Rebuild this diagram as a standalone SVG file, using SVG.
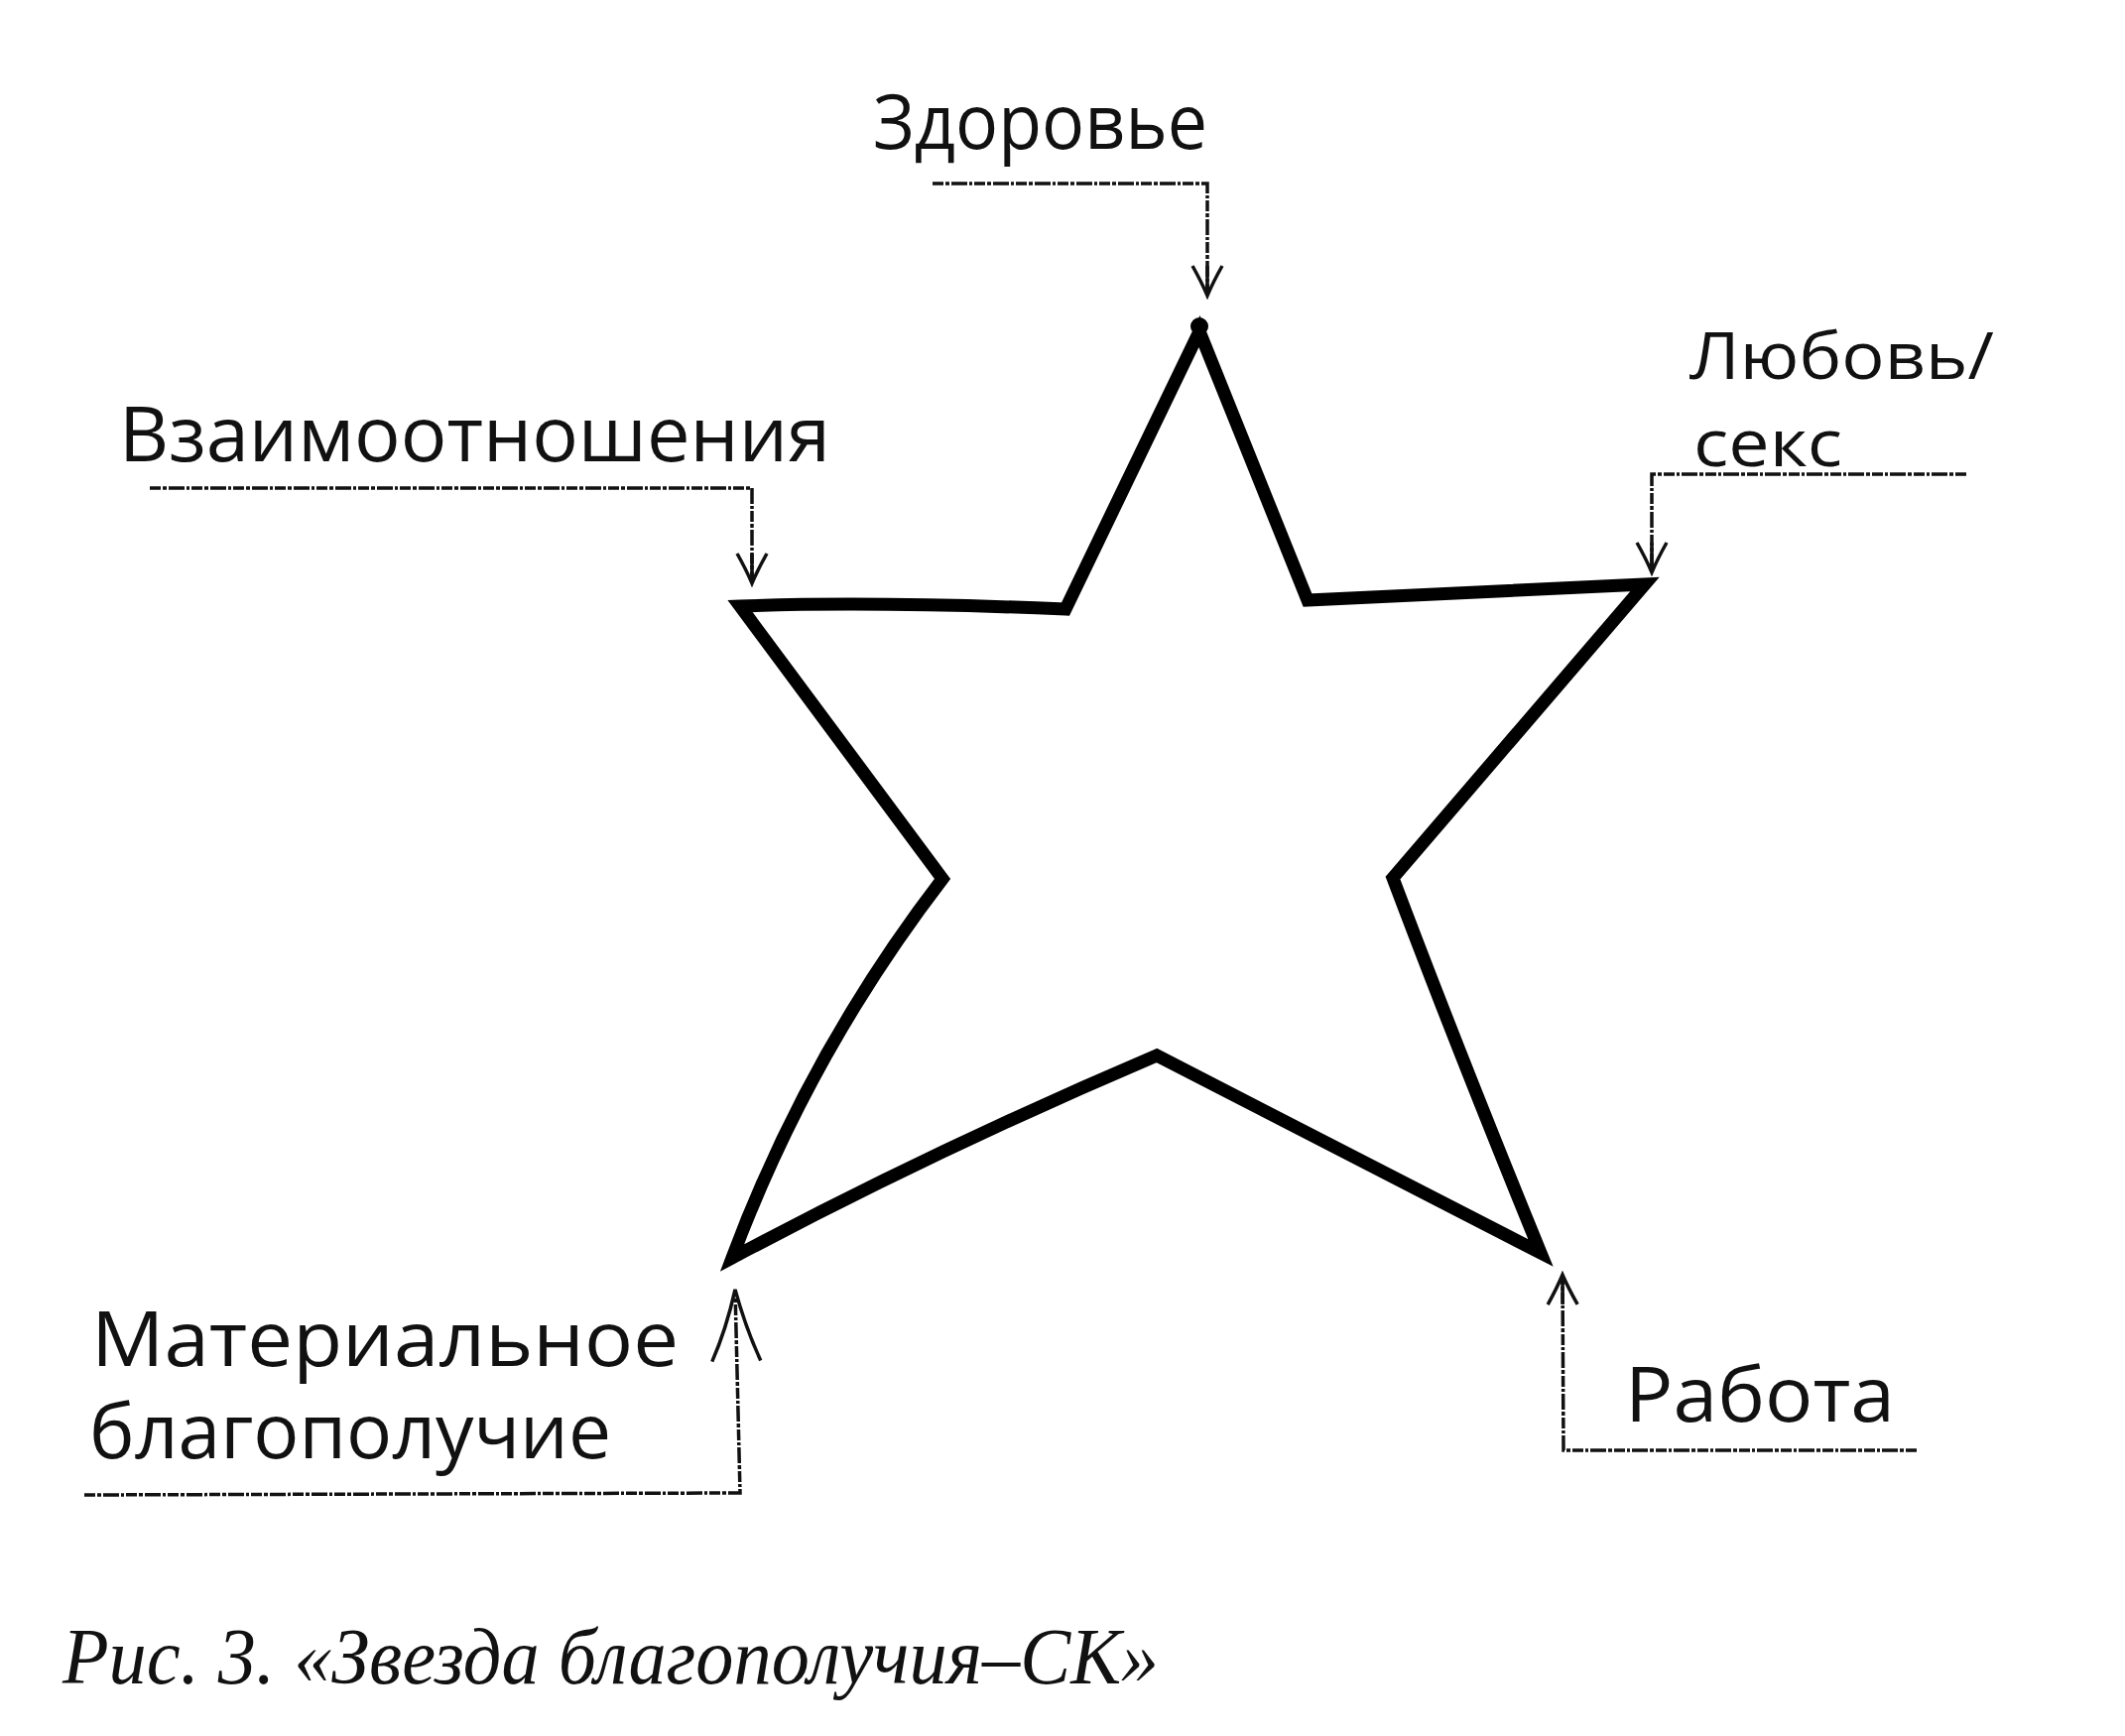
<svg xmlns="http://www.w3.org/2000/svg" width="2142" height="1750" viewBox="0 0 2142 1750">
<style>
.lbl{font-family:"Open Sans","Noto Sans","DejaVu Sans",sans-serif;font-size:76px;fill:#111}
.sm{font-size:65px}
.cap{font-family:"Liberation Serif","DejaVu Serif",serif;font-style:italic;font-size:80px;fill:#111}
.star{fill:none;stroke:#000;stroke-width:13;stroke-linejoin:miter;stroke-miterlimit:4}
.conn{fill:none;stroke:#111;stroke-width:3.5;stroke-dasharray:11 2 4 2 16 2 3 2}
</style>
<defs>
<marker id="arr" markerUnits="userSpaceOnUse" viewBox="-40 -20 44 40" refX="0" refY="0" markerWidth="44" markerHeight="40" orient="auto">
<path d="M-30,-15 Q-14,-6 0,0 Q-14,6 -30,15 M-30,0 L0,0" fill="none" stroke="#111" stroke-width="3.5"/>
</marker>
<marker id="arrL" markerUnits="userSpaceOnUse" viewBox="-80 -30 84 60" refX="0" refY="0" markerWidth="84" markerHeight="60" orient="auto">
<path d="M-72,-25 Q-40,-10 0,0 Q-40,10 -72,24" fill="none" stroke="#111" stroke-width="3.5"/>
</marker>
</defs>
<rect width="2142" height="1750" fill="#fff"/>
<g id="star">
<path class="star" d="M1209,334 L1318,605 L1658,589 L1404,885 Q1470,1060 1553,1263 L1166,1064 Q945,1158 738,1268 Q815,1062 950,886 L746,611 Q880,606 1074,614 Z"/>
<circle cx="1209" cy="329" r="9" fill="#000"/>
</g>
<g id="connectors">
<path class="conn" d="M940,185 H1217 V298" marker-end="url(#arr)"/>
<path class="conn" d="M151,492 H758 V588" marker-end="url(#arr)"/>
<path class="conn" d="M1982,478 H1665 V577" marker-end="url(#arr)"/>
<path class="conn" d="M85,1507 L746,1505 L741,1300" marker-end="url(#arrL)"/>
<path class="conn" d="M1932,1462 H1576 L1575,1285" marker-end="url(#arr)"/>
</g>
<g id="node-health"><text class="lbl" x="880" y="150" textLength="337" lengthAdjust="spacingAndGlyphs">Здоровье</text></g>
<g id="node-relations"><text class="lbl" x="120" y="465" textLength="717" lengthAdjust="spacingAndGlyphs">Взаимоотношения</text></g>
<g id="node-love"><text class="lbl sm" x="1703" y="382" textLength="307" lengthAdjust="spacingAndGlyphs">Любовь/</text><text class="lbl sm" x="1707" y="470" textLength="150" lengthAdjust="spacingAndGlyphs">секс</text></g>
<g id="node-wealth"><text class="lbl" x="92" y="1377" textLength="592" lengthAdjust="spacingAndGlyphs">Материальное</text><text class="lbl" x="90" y="1470" textLength="526" lengthAdjust="spacingAndGlyphs">благополучие</text></g>
<g id="node-work"><text class="lbl" x="1638" y="1433" textLength="272" lengthAdjust="spacingAndGlyphs">Работа</text></g>
<text class="cap" x="63" y="1697" textLength="1105" lengthAdjust="spacingAndGlyphs">Рис. 3. «Звезда благополучия–СК»</text>
</svg>
